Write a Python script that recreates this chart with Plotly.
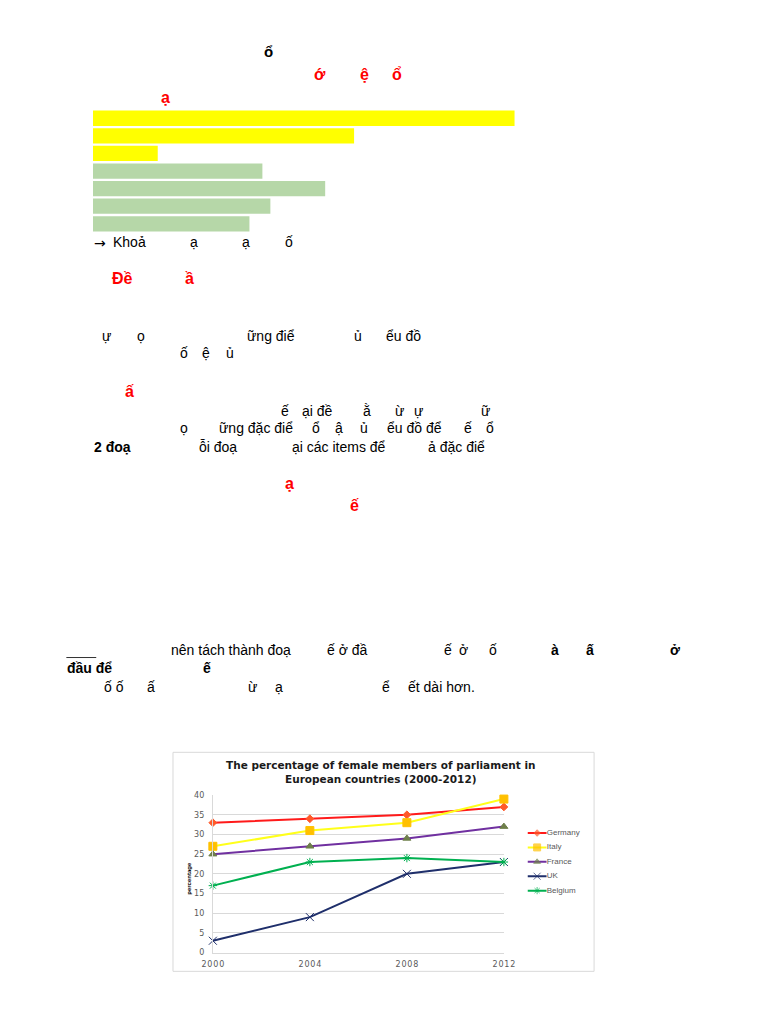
import plotly.graph_objects as go

# page is 768x1024, the browser body keeps its 8px margin
PAGE_W, PAGE_H = 768, 1024
OFF = 8
W, H = PAGE_W - 2 * OFF, PAGE_H - 2 * OFF
# the photographed page comes out slightly shrunk, undo that
SX, BX = 0.974, 9.7
SY, BY = 0.991, 4.3

# line chart data
years = [2000, 2004, 2008, 2012]
germany = [33, 34, 35, 37]
italy = [27, 31, 33, 39]
france = [25, 27, 29, 32]
uk = [3, 9, 20, 23]
belgium = [17, 23, 24, 23]
countries = ['Germany', 'Italy', 'France', 'UK', 'Belgium']
y_ticks = [0, 5, 10, 15, 20, 25, 30, 35, 40]

# highlight bars at the top of the page
bar_lengths = [423, 262, 65, 170, 233, 178, 157]
bar_colors = ['#FFFF00', '#FFFF00', '#FFFF00',
              '#B6D7A8', '#B6D7A8', '#B6D7A8', '#B6D7A8']

styles = [
    dict(line='#FF1A1A', symbol='diamond', fill='#FF5A2A', size=6),
    dict(line='#FFFF1A', symbol='square', fill='#FFC000', size=8),
    dict(line='#7030A0', symbol='triangle-up', fill='#6E7F4A', size=7),
    dict(line='#1F2F6B', symbol='x-thin-open', fill='#1F2F6B', size=8),
    dict(line='#00B050', symbol='asterisk-open', fill='#00B050', size=7),
]


def px_x(x):
    return ((x - BX) / SX - OFF) / W


def px_y(y):
    return 1 - ((y - BY) / SY - OFF) / H


def note(text, x, y, size=14, color='black', bold=False, anchor='center',
         family='Liberation Sans'):
    return dict(text=text, x=px_x(x), y=px_y(y), xref='paper', yref='paper',
                xanchor=anchor, yanchor='middle', showarrow=False,
                font=dict(family=family, size=size, color=color,
                          weight='bold' if bold else 'normal'))


fig = go.Figure()

# main chart
for name, vals, st in zip(countries, [germany, italy, france, uk, belgium], styles):
    fig.add_trace(go.Scatter(
        x=years, y=vals, mode='lines+markers', name=name, showlegend=False,
        cliponaxis=False,
        line=dict(color=st['line'], width=2),
        marker=dict(symbol=st['symbol'], size=st['size'], color=st['fill'],
                    line=dict(color=st['fill'], width=1)),
        xaxis='x', yaxis='y',
    ))

# hand made legend, Excel style (short sample line, marker in the middle)
for i, (name, st) in enumerate(zip(countries, styles)):
    fig.add_trace(go.Scatter(
        x=[0, 0.5, 1], y=[i, i, i], mode='lines+markers+text',
        text=['', '', name], textposition='middle right',
        textfont=dict(family='Liberation Sans', size=8, color='#595959'),
        showlegend=False, cliponaxis=False, hoverinfo='skip',
        line=dict(color=st['line'], width=2),
        marker=dict(symbol=st['symbol'], size=[0, st['size'] - 1, 0],
                    color=st['fill'], line=dict(color=st['fill'], width=1)),
        xaxis='x3', yaxis='y3',
    ))

# bars
fig.add_trace(go.Bar(
    x=bar_lengths, y=list(range(len(bar_lengths))), orientation='h',
    marker=dict(color=bar_colors, line=dict(width=0)),
    showlegend=False, hoverinfo='skip', xaxis='x2', yaxis='y2',
))

annotations = [
    # chart title and axis title
    dict(text='The percentage of female members of parliament in<br>European countries (2000-2012)',
         x=px_x(381), y=px_y(772.5), xref='paper', yref='paper', showarrow=False,
         xanchor='center', yanchor='middle',
         font=dict(family='DejaVu Sans', size=10.5, color='#1A1A1A', weight='bold')),
    dict(text='percentage', x=px_x(188), y=px_y(878), xref='paper', yref='paper',
         showarrow=False, textangle=-90, xanchor='center', yanchor='middle',
         font=dict(family='Liberation Sans', size=6, color='black', weight='bold')),

    note('ổ', 268, 52, size=15, bold=True),
    note('ớ', 320, 75, size=16, color='red', bold=True),
    note('ệ', 364, 75, size=16, color='red', bold=True),
    note('ổ', 397, 75, size=16, color='red', bold=True),
    note('ạ', 164, 98, size=16, color='red', bold=True),

    note('→', 91, 243, family='DejaVu Sans', anchor='left'),
    note('Khoả', 109.5, 242.7, anchor='left'),
    note('ạ', 193.3, 242.7),
    note('ạ', 245, 242.7),
    note('ố', 288, 242.7),

    note('Đề', 121.7, 279, size=16, color='red', bold=True),
    note('ầ', 189, 279, size=16, color='red', bold=True),

    note('ự', 105.7, 336.7),
    note('ọ', 140, 336.7),
    note('ững điể', 244, 336.7, anchor='left'),
    note('ủ', 357.7, 336.7),
    note('ểu đồ', 384, 336.7, anchor='left'),
    note('ố', 183.3, 353.3),
    note('ệ', 205, 353.3),
    note('ủ', 229.3, 353.3),

    note('ấ', 128.3, 391.7, size=16, color='red', bold=True),

    note('ế', 284.3, 410.7),
    note('ại đề', 299, 410.7, anchor='left'),
    note('ằ', 366.7, 410.7),
    note('ừ', 399.3, 410.7),
    note('ự', 418.3, 410.7),
    note('ữ', 486, 410.7),

    note('ọ', 182.7, 428.3),
    note('ững đặc điể', 215.7, 428.3, anchor='left'),
    note('ổ', 315.7, 428.3),
    note('ậ', 338.3, 428.3),
    note('ủ', 364, 428.3),
    note('ểu đồ để', 385, 428.3, anchor='left'),
    note('ế', 468.3, 428.3),
    note('ổ', 490, 428.3),

    note('2 đoạ', 90.7, 446.7, bold=True, anchor='left'),
    note('ỗi đoạ', 195.7, 446.7, anchor='left'),
    note('ại các items để', 289, 446.7, anchor='left'),
    note('ả đặc điể', 425.7, 446.7, anchor='left'),

    note('ạ', 288.5, 484, size=16, color='red', bold=True),
    note('ế', 354, 506, size=16, color='red', bold=True),

    note('nên tách thành đoạ', 168.3, 650, anchor='left'),
    note('ế ở đầ', 325, 650, anchor='left'),
    note('ế', 447.7, 650),
    note('ở', 463.3, 650),
    note('ố', 492.7, 650),
    note('à', 555, 650, bold=True),
    note('ấ', 590, 650, bold=True),
    note('ở', 676, 650, bold=True),

    note('đầu để', 64, 668.3, bold=True, anchor='left'),
    note('ế', 205.7, 668.3, bold=True),

    note('ố ố', 100.7, 687.3, anchor='left'),
    note('ấ', 150, 687.3),
    note('ừ', 251.7, 687.3),
    note('ạ', 278.3, 687.3),
    note('ể', 386, 687.3),
    note('ết dài hơn.', 405.7, 687.3, anchor='left'),
]

shapes = [
    # chart frame
    dict(type='rect', xref='paper', yref='paper',
         x0=px_x(172), x1=px_x(594.5), y0=px_y(971.5), y1=px_y(752.5),
         line=dict(color='#D9D9D9', width=1), fillcolor='rgba(0,0,0,0)'),
    # short rule above "đầu để"
    dict(type='line', xref='paper', yref='paper',
         x0=px_x(65), x1=px_x(95), y0=px_y(657.7), y1=px_y(657.7),
         line=dict(color='#333333', width=1)),
]

bar_left, bar_span = 91.7, 430

fig.update_layout(
    width=W, height=H,
    margin=dict(l=0, r=0, t=0, b=0),
    paper_bgcolor='white', plot_bgcolor='white',
    font=dict(family='Liberation Sans'),
    bargap=0.13,
    annotations=annotations,
    shapes=shapes,
    xaxis=dict(domain=[px_x(212), px_x(504)], range=[2000, 2012], anchor='y',
               tickvals=years, ticktext=['\u200a'.join(str(y)) for y in years],
               ticks='', showgrid=False, zeroline=False, ticklabelstandoff=4,
               showline=True, linecolor='#D9D9D9', linewidth=1,
               tickfont=dict(family='DejaVu Sans', size=8, color='#595959')),
    yaxis=dict(domain=[px_y(952.7), px_y(795.3)], range=[0, 40], anchor='x',
               tickvals=y_ticks, showgrid=True, gridcolor='#D9D9D9', gridwidth=1,
               zeroline=False, showline=True, linecolor='#D9D9D9', linewidth=1,
               ticks='', ticklabelstandoff=6,
               tickfont=dict(family='DejaVu Sans', size=8, color='#595959')),
    xaxis2=dict(domain=[px_x(bar_left), px_x(bar_left + bar_span)], range=[0, bar_span],
                anchor='y2', visible=False),
    yaxis2=dict(domain=[px_y(232.8), px_y(109.7)], range=[6.5, -0.5],
                anchor='x2', visible=False),
    xaxis3=dict(domain=[px_x(527.7), px_x(547)], range=[0, 1],
                anchor='y3', visible=False),
    yaxis3=dict(domain=[px_y(898), px_y(826)], range=[4.5, -0.5],
                anchor='x3', visible=False),
)

fig.write_html("out.html", config={'displayModeBar': False})
